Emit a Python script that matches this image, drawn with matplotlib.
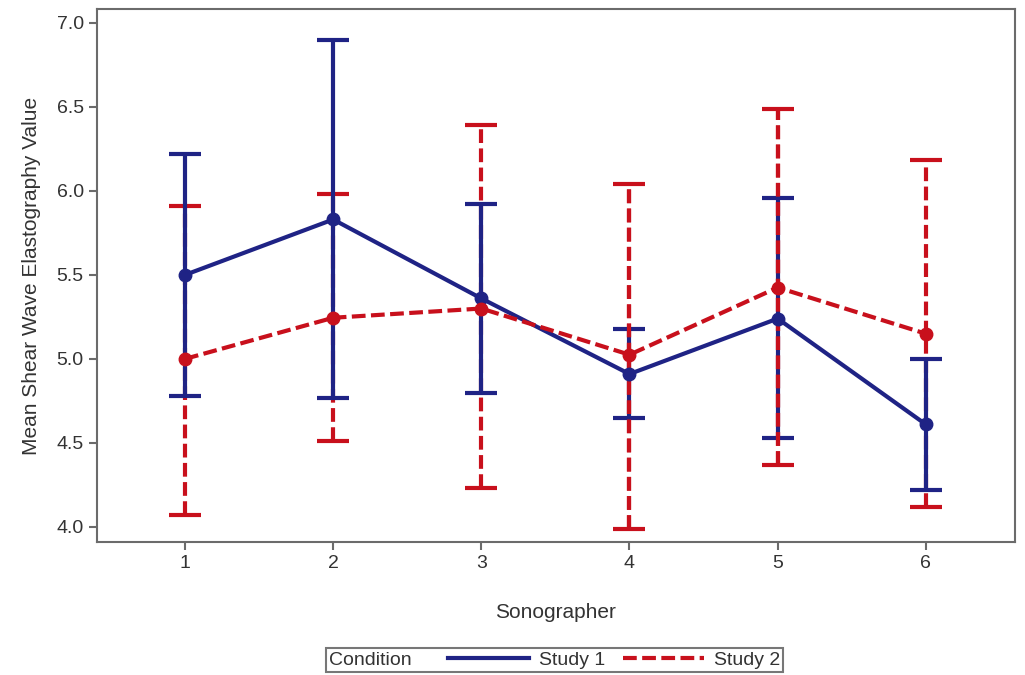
import matplotlib.pyplot as plt
from matplotlib.lines import Line2D
from matplotlib.offsetbox import HPacker

plt.rcParams["font.family"] = ["Liberation Sans", "DejaVu Sans"]

sonographer = [1, 2, 3, 4, 5, 6]

# Study 1 (mean and error bar ends)
s1_mean = [5.50, 5.83, 5.36, 4.91, 5.24, 4.61]
s1_upper = [6.22, 6.90, 5.92, 5.18, 5.96, 5.00]
s1_lower = [4.78, 4.77, 4.80, 4.65, 4.53, 4.22]

# Study 2
s2_mean = [5.00, 5.245, 5.30, 5.025, 5.425, 5.15]
s2_upper = [5.91, 5.98, 6.39, 6.04, 6.49, 6.185]
s2_lower = [4.07, 4.51, 4.23, 3.99, 4.37, 4.12]

yticks = [4.0, 4.5, 5.0, 5.5, 6.0, 6.5, 7.0]

blue = "#1f2385"
red = "#c8101c"
grey = "#6b6b6b"
txt = "#333333"
dash = (0, (3.3, 1.3))

fig = plt.figure(figsize=(10.25, 6.75), dpi=100)
ax = fig.add_axes([0.0946, 0.197, 0.8954, 0.7897])


def draw_study(mean, lower, upper, color, ls, zbar, zline):
    err = [[m - l for m, l in zip(mean, lower)], [u - m for m, u in zip(mean, upper)]]
    line, caps, bars = ax.errorbar(sonographer, mean, yerr=err, color=color, lw=3,
                                   marker="o", ms=9, capsize=11.5, capthick=3,
                                   elinewidth=3)
    line.set_linestyle(ls)
    line.set_zorder(zline)
    bars[0].set_linestyle(ls)
    bars[0].set_zorder(zbar)
    for c in caps:
        c.set_zorder(zbar)


draw_study(s2_mean, s2_lower, s2_upper, red, dash, 2.0, 3.5)
draw_study(s1_mean, s1_lower, s1_upper, blue, "-", 2.5, 3.0)

# red bars sit on top of the blue ones at sonographers 4 and 5
idx = [3, 4]
ax.vlines([sonographer[i] for i in idx], [s2_lower[i] for i in idx],
          [s2_upper[i] for i in idx], colors=red, lw=3, linestyles=dash, zorder=2.7)

ax.set_xlim(0.406, 6.60)
ax.set_ylim(3.91, 7.083)
ax.set_xticks(sonographer)
ax.set_yticks(yticks)
ax.set_yticklabels([f"{v:.1f}" for v in yticks])
ax.tick_params(colors=grey, labelcolor=txt, labelsize=14, length=6, width=1.5)

for sp in ax.spines.values():
    sp.set_color(grey)
    sp.set_linewidth(1.5)

ax.set_xlabel("Sonographer", fontsize=15, color=txt, labelpad=22)
ax.set_ylabel("Mean Shear Wave Elastography Value", fontsize=15, color=txt, labelpad=11)

h1 = Line2D([], [], color=blue, lw=3)
h2 = Line2D([], [], color=red, lw=3, ls=dash)
leg = fig.legend(handles=[h1, h2], labels=["Study 1", "Study 2"], title="Condition",
                 ncol=2, loc="center", bbox_to_anchor=(0.541, 0.022), fontsize=14,
                 title_fontsize=14, handlelength=4.2, handletextpad=0.5,
                 columnspacing=0.9, borderpad=0.15, fancybox=False,
                 edgecolor="#777777", framealpha=1)
leg.get_frame().set_linewidth(1.5)
for t in leg.get_texts():
    t.set_color(txt)
leg.get_title().set_color(txt)

# put the legend title on the same row as the entries
old = leg._legend_box
new = HPacker(pad=old.pad, sep=26, align="center", children=old.get_children())
new.set_figure(fig)
new.axes = ax
leg._legend_box = new
new.set_offset(leg._findoffset)

plt.savefig("out.png")
